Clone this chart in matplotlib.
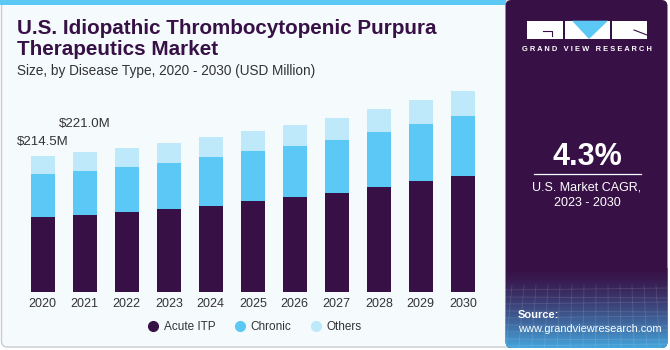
import numpy as np
import matplotlib
matplotlib.use('Agg')
import matplotlib.pyplot as plt
from matplotlib.patches import FancyBboxPatch, Rectangle, Polygon
from matplotlib.lines import Line2D

plt.rcParams['font.family'] = ['Liberation Sans', 'DejaVu Sans']

years = ['2020', '2021', '2022', '2023', '2024', '2025', '2026', '2027', '2028', '2029', '2030']
acute = [118.5, 121.7, 125.9, 130.7, 135.9, 144.3, 150.1, 156.4, 166.4, 174.9, 183.3]
chronic = [67.9, 69.5, 71.6, 73.6, 77.4, 78.1, 80.1, 83.7, 86.0, 90.1, 95.3]
others = [28.1, 29.8, 30.0, 31.1, 31.6, 32.1, 33.2, 35.2, 36.3, 38.4, 39.5]
labels = {0: '$214.5M', 1: '$221.0M'}
series_names = ['Acute ITP', 'Chronic', 'Others']

c_acute = '#371146'
c_chronic = '#5bc8f5'
c_others = '#bde9fa'
bg = '#f5fafd'
purple = '#371146'

fig = plt.figure(figsize=(6.7, 3.5), dpi=100)
fig.patch.set_facecolor('white')

# background canvas in pixel coordinates
bgax = fig.add_axes([0, 0, 1, 1])
bgax.set_xlim(0, 670)
bgax.set_ylim(350, 0)
bgax.axis('off')

bgax.add_patch(FancyBboxPatch((1.5, 1), 520, 346, boxstyle='round,pad=0,rounding_size=6',
                              fc=bg, ec='#c8ccd0', lw=1))
bgax.add_patch(Rectangle((0, 0), 506, 5, fc='#5bc8f5', ec='none'))

panel = FancyBboxPatch((505.5, 0), 162, 348, boxstyle='round,pad=0,rounding_size=6',
                       fc=purple, ec='none')
bgax.add_patch(panel)

# gradient at bottom of right panel
grad = np.linspace(0, 1, 100)[:, None]
c0 = np.array([0x37, 0x11, 0x46]) / 255
c1 = np.array([0x45, 0xa5, 0xdd]) / 255
img = c0 + (c1 - c0) * grad[..., None] ** 1.4
img = np.repeat(img, 10, axis=1)
im = bgax.imshow(img, extent=[505.5, 667.5, 348, 268], aspect='auto', zorder=2)
im.set_clip_path(panel)
for k in range(9):
    yy = 290 + k * 7
    bgax.plot([505.5, 667.5], [yy, yy - 2 + (k % 2) * 3], color='white', alpha=0.12, lw=0.6, zorder=3)
for k in range(14):
    xx = 512 + k * 12
    bgax.plot([xx, xx - 6 + k * 0.8], [285, 348], color='white', alpha=0.12, lw=0.6, zorder=3)

# logo
bgax.add_patch(Rectangle((527, 20.7), 36, 18.3, fc='white', ec='none', zorder=4))
bgax.add_patch(Rectangle((565, 20.7), 45, 18.3, fc='white', ec='none', zorder=4))
bgax.add_patch(Polygon([(572, 20.7), (608, 20.7), (589, 39)], closed=True, fc='#5bc8f5', ec='none', zorder=5))
bgax.add_patch(Rectangle((612, 20.7), 35, 18.3, fc='white', ec='none', zorder=4))
bgax.plot([543, 552, 552], [30.5, 30.5, 36], color=purple, lw=0.8, zorder=5)
bgax.plot([634, 647], [30, 35], color=purple, lw=0.8, zorder=5)
bgax.text(587, 49.5, 'G R A N D   V I E W   R E S E A R C H', color='white', fontsize=5.4, fontweight='bold',
          ha='center', va='center', zorder=5)

bgax.text(587, 157, '4.3%', color='white', fontsize=22, fontweight='bold', ha='center', va='center', zorder=5)
bgax.plot([534, 641], [173.5, 173.5], color='white', lw=0.9, zorder=5)
bgax.text(587, 187.5, 'U.S. Market CAGR,', color='white', fontsize=9, ha='center', va='center', zorder=5)
bgax.text(587, 202.5, '2023 - 2030', color='white', fontsize=9, ha='center', va='center', zorder=5)
bgax.text(518, 315.5, 'Source:', color='white', fontsize=8, fontweight='bold', ha='left', va='center', zorder=5)
bgax.text(518, 329.5, 'www.grandviewresearch.com', color='white', fontsize=7.9, ha='left', va='center', zorder=5)

# titles
bgax.text(17, 28, 'U.S. Idiopathic Thrombocytopenic Purpura', color=purple, fontsize=14.9,
          fontweight='bold', ha='left', va='center')
bgax.text(17, 49.5, 'Therapeutics Market', color=purple, fontsize=14.9,
          fontweight='bold', ha='left', va='center')
bgax.text(17, 71, 'Size, by Disease Type, 2020 - 2030 (USD Million)', color='#333333', fontsize=9.8,
          ha='left', va='center')

# chart
ax = fig.add_axes([21.8 / 670, 58 / 350, 462 / 670, 212 / 350])
ax.patch.set_alpha(0)
x = np.arange(len(years))
w = 0.58
a = np.array(acute)
c = np.array(chronic)
o = np.array(others)
ax.bar(x, a, w, color=c_acute, zorder=3)
ax.bar(x, c, w, bottom=a, color=c_chronic, zorder=3)
ax.bar(x, o, w, bottom=a + c, color=c_others, zorder=3)
ax.set_xlim(-0.5, len(years) - 0.5)
ax.set_ylim(0, 335)
for s in ax.spines.values():
    s.set_visible(False)
ax.set_yticks([])
ax.set_xticks(x)
ax.set_xticklabels(years, fontsize=9, color='#333333')
ax.tick_params(axis='x', length=0, pad=4)

tot = a + c + o
offs = {0: 10.5, 1: 20.5}
for i, txt in labels.items():
    ax.annotate(txt, (x[i], tot[i]), xytext=(0, offs[i]), textcoords='offset points',
                ha='center', va='center', fontsize=9.5, color='#333333')

handles = [Line2D([0], [0], marker='o', ls='none', markersize=7, markerfacecolor=col, markeredgecolor=col)
           for col in [c_acute, c_chronic, c_others]]
fig.legend(handles, series_names, loc='center', bbox_to_anchor=(254 / 670, 1 - 327 / 350), ncol=3,
           frameon=False, fontsize=8.5, handlelength=1.2, handletextpad=0.3, columnspacing=1.5,
           labelcolor='#333333')

fig.savefig('out.png', dpi=100, facecolor=fig.get_facecolor())
